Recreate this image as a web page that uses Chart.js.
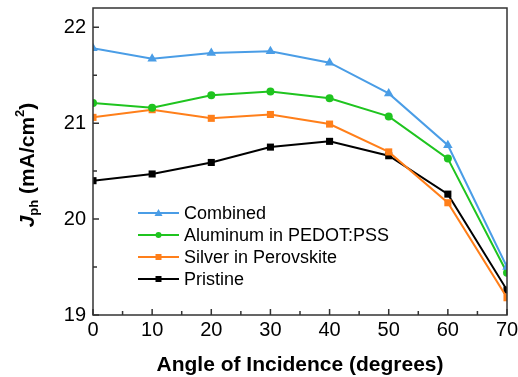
<!DOCTYPE html>
<html>
<head>
<meta charset="utf-8">
<script src="https://cdn.jsdelivr.net/npm/chart.js@4"></script>
<style>
  html, body { margin: 0; padding: 0; background: #fff; }
  #wrap { width: 518px; height: 377px; }
</style>
</head>
<body>
<div id="wrap"><canvas id="angleChart"></canvas></div>
<script>
// data
const angles = [0, 10, 20, 30, 40, 50, 60, 70];
const combined = [21.78, 21.67, 21.73, 21.75, 21.63, 21.31, 20.77, 19.50];
const aluminum = [21.21, 21.16, 21.29, 21.33, 21.26, 21.07, 20.63, 19.44];
const silver = [21.06, 21.14, 21.05, 21.09, 20.99, 20.70, 20.17, 19.18];
const pristine = [20.40, 20.47, 20.59, 20.75, 20.81, 20.66, 20.26, 19.26];
const seriesNames = ['Combined', 'Aluminum in PEDOT:PSS', 'Silver in Perovskite', 'Pristine'];
const yTicks = [19, 20, 21, 22];

const colors = ['#4a9de6', '#1fc41f', '#ff7f1a', '#000000'];
const markers = ['triangle', 'circle', 'rect', 'rect'];
const markerSize = { triangle: 5.5, circle: 4, rect: 5 };

function makeSet(i, values) {
  return {
    label: seriesNames[i],
    data: angles.map((a, k) => ({ x: a, y: values[k] })),
    borderColor: colors[i],
    backgroundColor: colors[i],
    borderWidth: 2,
    pointStyle: markers[i],
    pointRadius: markerSize[markers[i]],
    pointBorderWidth: 0,
    tension: 0
  };
}

// =========================
// FRAME, INWARD TICKS, TITLES, LEGEND
// =========================
const decorPlugin = {
  id: 'decor',
  afterDraw(chart) {
    const c = chart.ctx;
    const a = chart.chartArea;
    const xs = chart.scales.x;
    const ys = chart.scales.y;
    c.save();
    c.strokeStyle = '#333';
    c.lineWidth = 1.5;
    c.strokeRect(a.left, a.top, a.right - a.left, a.bottom - a.top);

    c.beginPath();
    for (let v = 0; v <= 70; v += 5) {
      const px = xs.getPixelForValue(v);
      const len = v % 10 === 0 ? 6 : 4;
      c.moveTo(px, a.bottom);
      c.lineTo(px, a.bottom - len);
    }
    for (let v = 19; v <= 22.01; v += 0.5) {
      const py = ys.getPixelForValue(v);
      const len = Math.abs(v - Math.round(v)) < 0.01 ? 6 : 4;
      c.moveTo(a.left, py);
      c.lineTo(a.left + len, py);
    }
    c.stroke();

    // x title
    c.fillStyle = '#000';
    c.font = 'bold 21px Arial, "Liberation Sans", sans-serif';
    c.textAlign = 'center';
    c.textBaseline = 'middle';
    c.fillText('Angle of Incidence (degrees)', 300, 365);

    // y title with subscript / superscript
    c.translate(28, 165);
    c.rotate(-Math.PI / 2);
    const big = 'bold 21px Arial, "Liberation Sans", sans-serif';
    const bigI = 'italic bold 21px Arial, "Liberation Sans", sans-serif';
    const small = 'bold 13px Arial, "Liberation Sans", sans-serif';
    const parts = [
      { t: 'J', f: bigI, dy: 0 },
      { t: 'ph', f: small, dy: 6 },
      { t: ' (mA/cm', f: big, dy: 0 },
      { t: '2', f: small, dy: -8 },
      { t: ')', f: big, dy: 0 }
    ];
    let total = 0;
    parts.forEach(p => { c.font = p.f; p.w = c.measureText(p.t).width; total += p.w; });
    let x = -total / 2;
    c.textAlign = 'left';
    parts.forEach(p => { c.font = p.f; c.fillText(p.t, x, p.dy); x += p.w; });
    c.restore();

    // legend
    c.save();
    c.font = '18px Arial, "Liberation Sans", sans-serif';
    c.textBaseline = 'middle';
    const rows = [213, 235, 257, 279];
    chart.data.datasets.forEach((ds, i) => {
      const y = rows[i];
      c.strokeStyle = ds.borderColor;
      c.fillStyle = ds.borderColor;
      c.lineWidth = 2;
      c.beginPath();
      c.moveTo(138, y);
      c.lineTo(179, y);
      c.stroke();
      c.beginPath();
      if (ds.pointStyle === 'triangle') {
        c.moveTo(158.5, y - 4); c.lineTo(162.5, y + 3); c.lineTo(154.5, y + 3); c.closePath();
      } else if (ds.pointStyle === 'circle') {
        c.arc(158.5, y, 3, 0, Math.PI * 2);
      } else {
        c.rect(155.5, y - 3, 6, 6);
      }
      c.fill();
      c.fillStyle = '#000';
      c.fillText(ds.label, 184, y + 1);
    });
    c.restore();
  }
};

const ctx = document.getElementById('angleChart').getContext('2d');

new Chart(ctx, {
  type: 'line',
  data: {
    datasets: [
      makeSet(0, combined),
      makeSet(1, aluminum),
      makeSet(2, silver),
      makeSet(3, pristine)
    ]
  },
  options: {
    responsive: true,
    maintainAspectRatio: false,
    animation: false,
    layout: { padding: { top: 8, right: 11, left: 0, bottom: 0 } },
    plugins: { legend: { display: false }, tooltip: { enabled: false } },
    scales: {
      x: {
        type: 'linear',
        min: 0,
        max: 70,
        grid: { display: false, drawTicks: false },
        border: { display: false },
        ticks: {
          stepSize: 10,
          padding: 3,
          color: '#000',
          font: { family: 'Arial, "Liberation Sans", sans-serif', size: 20 }
        },
        afterFit(scale) {
          scale.height = 62;
          scale.paddingLeft = 0;
          scale.paddingRight = 0;
        }
      },
      y: {
        min: 19,
        max: 22.2,
        afterBuildTicks(scale) { scale.ticks = yTicks.map(v => ({ value: v })); },
        grid: { display: false, drawTicks: false },
        border: { display: false },
        ticks: {
          padding: 7,
          color: '#000',
          font: { family: 'Arial, "Liberation Sans", sans-serif', size: 20 }
        },
        afterFit(scale) {
          scale.width = 93;
          scale.paddingTop = 0;
          scale.paddingBottom = 0;
        }
      }
    }
  },
  plugins: [decorPlugin]
});
</script>
</body>
</html>
